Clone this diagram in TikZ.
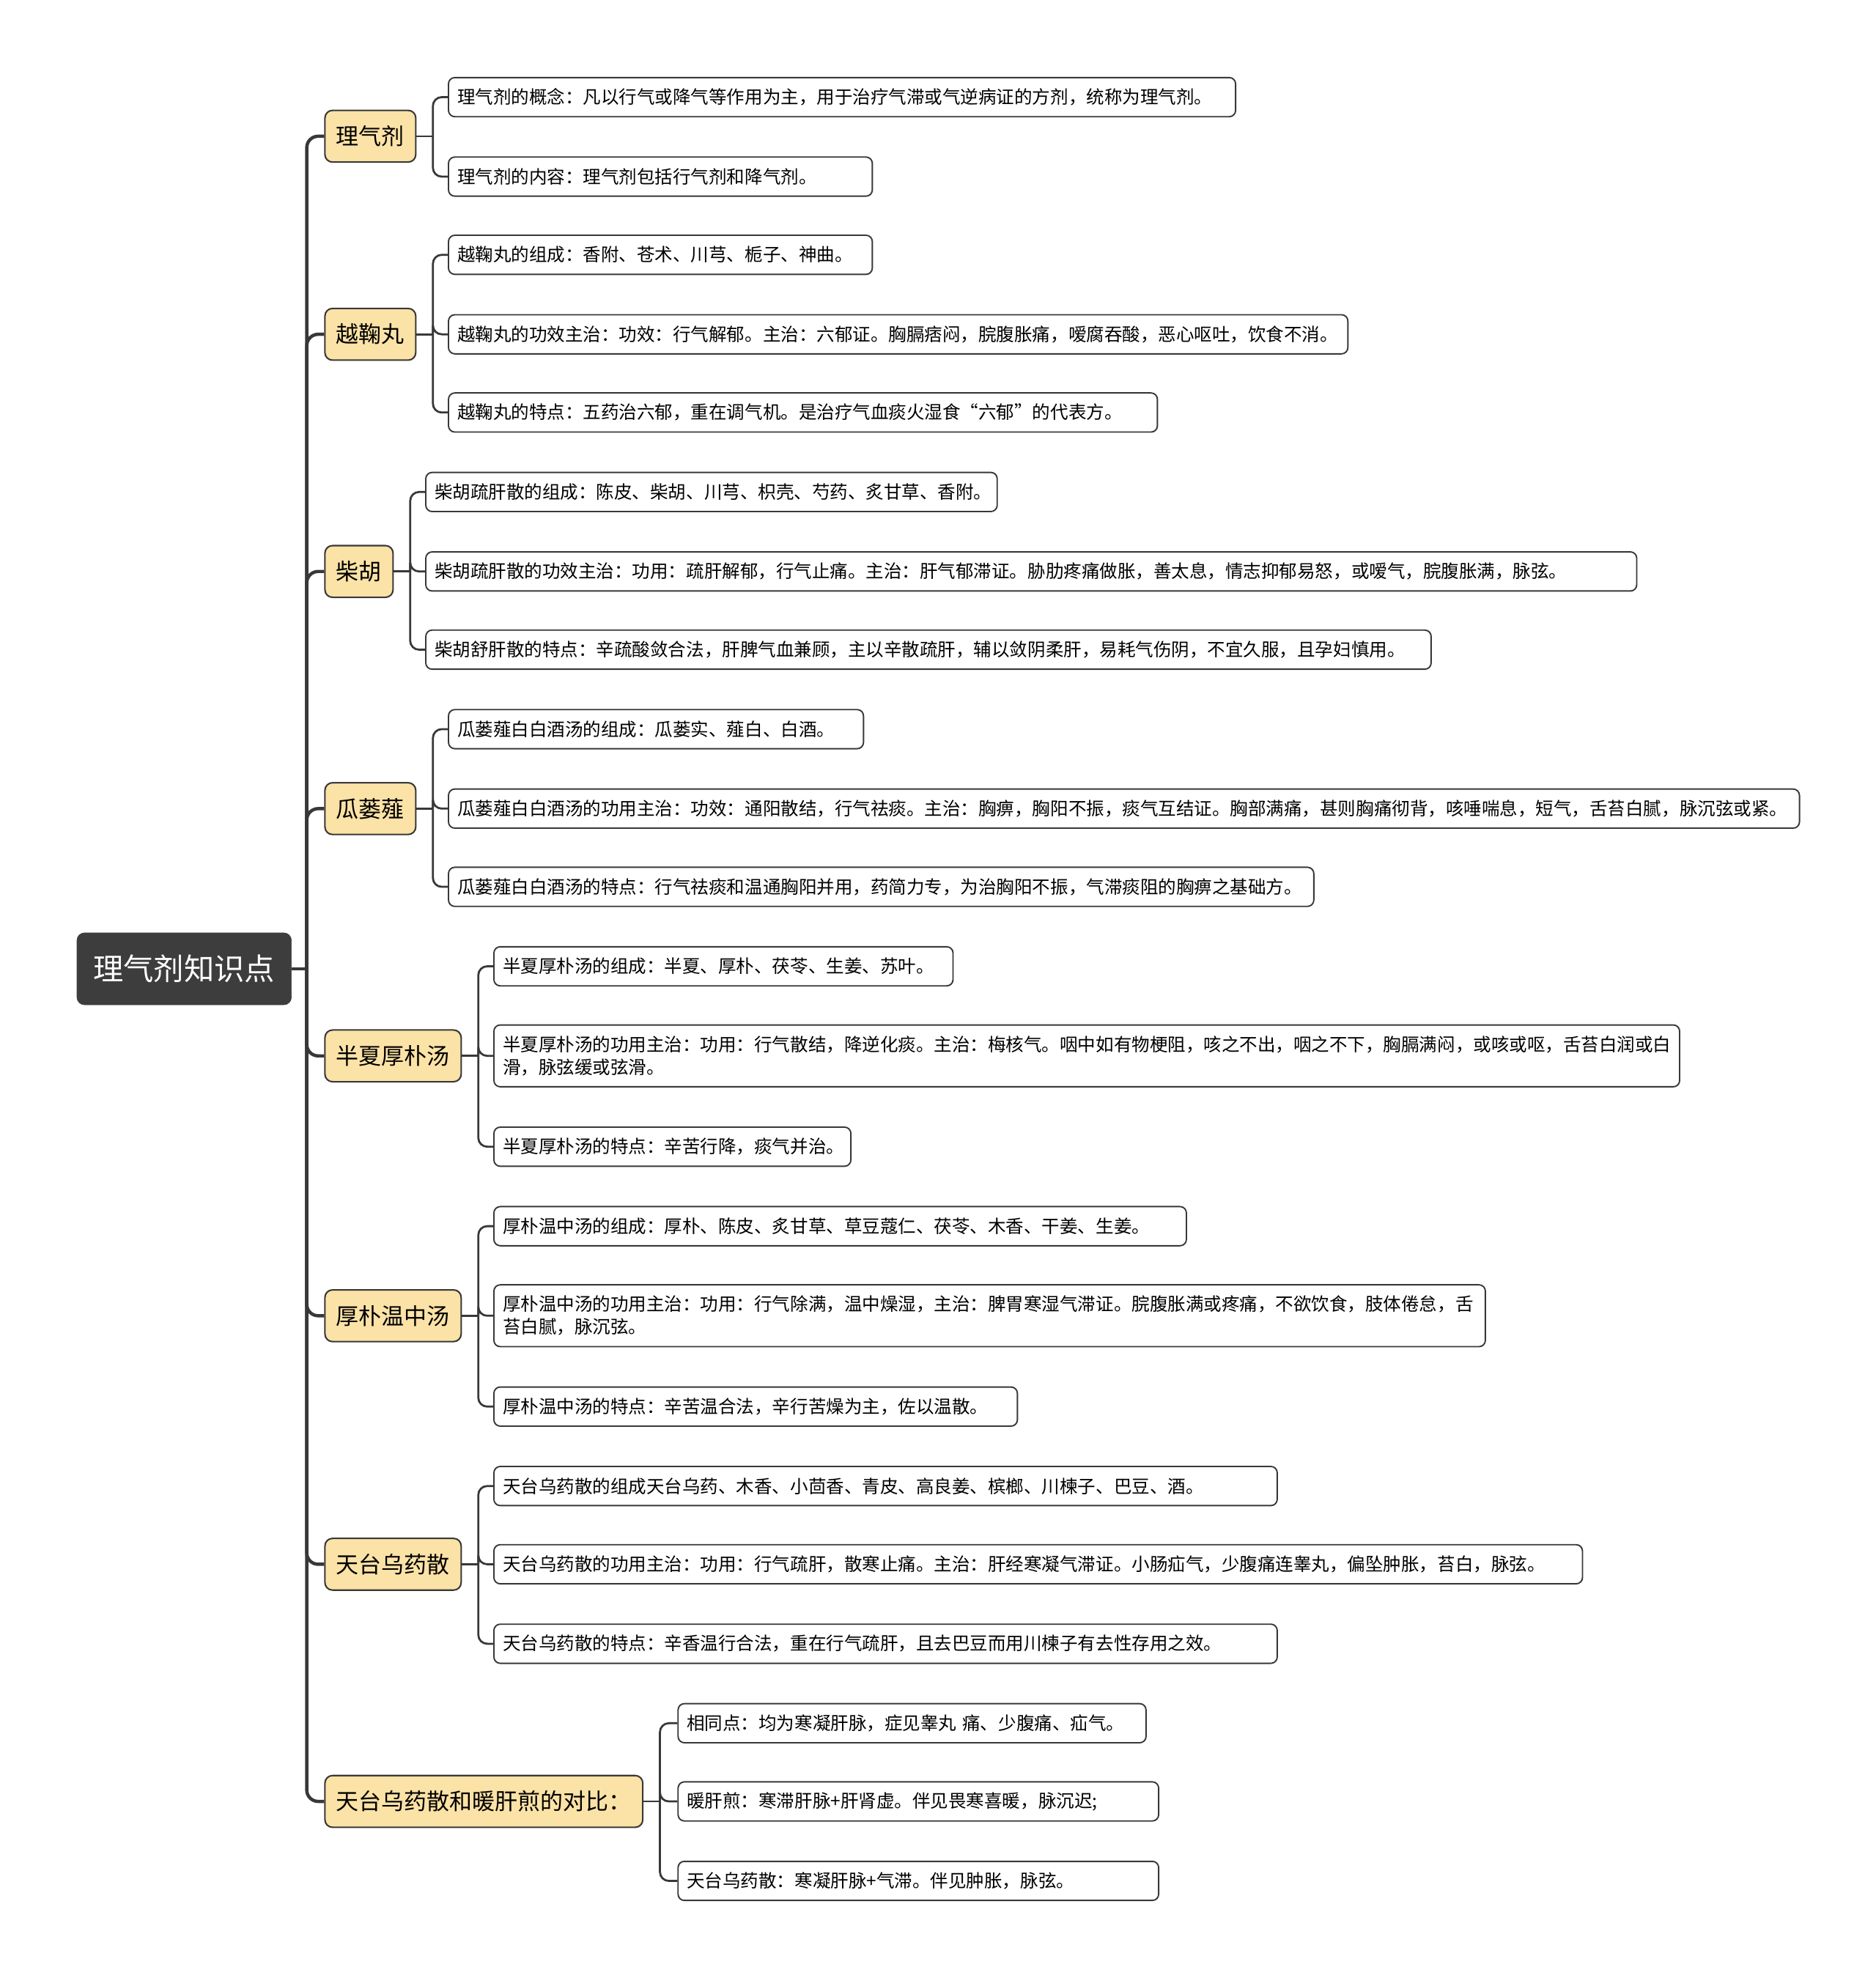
\documentclass[tikz,border=0pt]{standalone}
\usepackage{fontspec}
\setmainfont{Noto Sans CJK SC}
\definecolor{rootgray}{HTML}{3D3D3D}
\definecolor{linegray}{HTML}{383838}
\definecolor{topicfill}{HTML}{FBE2A6}
\newcommand\rootsize{\fontsize{24}{28}\selectfont}
\newcommand\topicsize{\fontsize{18}{22}\selectfont}
\newcommand\leafsize{\fontsize{14.25}{18}\selectfont}
\begin{document}
\begin{tikzpicture}[x=1pt, y=-1pt,
	root/.style={rectangle, rounded corners=6pt, fill=rootgray, draw=rootgray, text=white, font=\rootsize, inner xsep=13pt, minimum height=57pt},
	topic/.style={rectangle, rounded corners=6pt, fill=topicfill, draw=linegray, line width=1.2pt, font=\topicsize, inner xsep=9pt, minimum height=41pt, anchor=west},
	leaf/.style={rectangle, rounded corners=5pt, fill=white, draw=linegray, line width=1.1pt, font=\leafsize, inner xsep=7pt, inner ysep=0pt, align=left, minimum height=31pt, anchor=west, text width=#1},
	trunk/.style={draw=linegray, line width=2.6pt, rounded corners=9pt},
	twig/.style={draw=linegray, line width=1.6pt, rounded corners=7pt}]

	\useasboundingbox (0,0) rectangle (1487,1568);

	\node[root] (root) at (146,768) {理气剂知识点};

	\node[topic] (t1) at (257,108) {理气剂};
	\node[topic] (t2) at (257,265) {越鞠丸};
	\node[topic] (t3) at (257,453) {柴胡};
	\node[topic] (t4) at (257,641) {瓜蒌薤};
	\node[topic] (t5) at (257,837) {半夏厚朴汤};
	\node[topic] (t6) at (257,1043) {厚朴温中汤};
	\node[topic] (t7) at (257,1240) {天台乌药散};
	\node[topic] (t8) at (257,1428) {天台乌药散和暖肝煎的对比：};

	\node[leaf=610pt] (t1a) at (355,77) {理气剂的概念：凡以行气或降气等作用为主，用于治疗气滞或气逆病证的方剂，统称为理气剂。};
	\node[leaf=322pt] (t1b) at (355,140) {理气剂的内容：理气剂包括行气剂和降气剂。};

	\node[leaf=322pt] (t2a) at (355,202) {越鞠丸的组成：香附、苍术、川芎、栀子、神曲。};
	\node[leaf=699pt] (t2b) at (355,265) {越鞠丸的功效主治：功效：行气解郁。主治：六郁证。胸膈痞闷，脘腹胀痛，嗳腐吞酸，恶心呕吐，饮食不消。};
	\node[leaf=548pt] (t2c) at (355,327) {越鞠丸的特点：五药治六郁，重在调气机。是治疗气血痰火湿食“六郁”的代表方。};

	\node[leaf=439pt] (t3a) at (337,390) {柴胡疏肝散的组成：陈皮、柴胡、川芎、枳壳、芍药、炙甘草、香附。};
	\node[leaf=946pt] (t3b) at (337,453) {柴胡疏肝散的功效主治：功用：疏肝解郁，行气止痛。主治：肝气郁滞证。胁肋疼痛做胀，善太息，情志抑郁易怒，或嗳气，脘腹胀满，脉弦。};
	\node[leaf=783pt] (t3c) at (337,515) {柴胡舒肝散的特点：辛疏酸敛合法，肝脾气血兼顾，主以辛散疏肝，辅以敛阴柔肝，易耗气伤阴，不宜久服，且孕妇慎用。};

	\node[leaf=315pt] (t4a) at (355,578) {瓜蒌薤白白酒汤的组成：瓜蒌实、薤白、白酒。};
	\node[leaf=1057pt] (t4b) at (355,641) {瓜蒌薤白白酒汤的功用主治：功效：通阳散结，行气祛痰。主治：胸痹，胸阳不振，痰气互结证。胸部满痛，甚则胸痛彻背，咳唾喘息，短气，舌苔白腻，脉沉弦或紧。};
	\node[leaf=672pt] (t4c) at (355,703) {瓜蒌薤白白酒汤的特点：行气祛痰和温通胸阳并用，药简力专，为治胸阳不振，气滞痰阻的胸痹之基础方。};

	\node[leaf=350pt] (t5a) at (391,766) {半夏厚朴汤的组成：半夏、厚朴、茯苓、生姜、苏叶。};
	\node[leaf=926pt, minimum height=49pt] (t5b) at (391,837) {半夏厚朴汤的功用主治：功用：行气散结，降逆化痰。主治：梅核气。咽中如有物梗阻，咳之不出，咽之不下，胸膈满闷，或咳或呕，舌苔白润或白\\滑，脉弦缓或弦滑。};
	\node[leaf=269pt] (t5c) at (391,909) {半夏厚朴汤的特点：辛苦行降，痰气并治。};

	\node[leaf=535pt] (t6a) at (391,972) {厚朴温中汤的组成：厚朴、陈皮、炙甘草、草豆蔻仁、茯苓、木香、干姜、生姜。};
	\node[leaf=772pt, minimum height=49pt] (t6b) at (391,1043) {厚朴温中汤的功用主治：功用：行气除满，温中燥湿，主治：脾胃寒湿气滞证。脘腹胀满或疼痛，不欲饮食，肢体倦怠，舌\\苔白腻，脉沉弦。};
	\node[leaf=401pt] (t6c) at (391,1115) {厚朴温中汤的特点：辛苦温合法，辛行苦燥为主，佐以温散。};

	\node[leaf=607pt] (t7a) at (391,1178) {天台乌药散的组成天台乌药、木香、小茴香、青皮、高良姜、槟榔、川楝子、巴豆、酒。};
	\node[leaf=849pt] (t7b) at (391,1240) {天台乌药散的功用主治：功用：行气疏肝，散寒止痛。主治：肝经寒凝气滞证。小肠疝气，少腹痛连睾丸，偏坠肿胀，苔白，脉弦。};
	\node[leaf=607pt] (t7c) at (391,1303) {天台乌药散的特点：辛香温行合法，重在行气疏肝，且去巴豆而用川楝子有去性存用之效。};

	\node[leaf=357pt] (t8a) at (537,1366) {相同点：均为寒凝肝脉，症见睾丸 痛、少腹痛、疝气。};
	\node[leaf=367pt] (t8b) at (537,1428) {暖肝煎：寒滞肝脉+肝肾虚。伴见畏寒喜暖，脉沉迟;};
	\node[leaf=367pt] (t8c) at (537,1491) {天台乌药散：寒凝肝脉+气滞。伴见肿胀，脉弦。};

	% trunk from the root to every topic
	\draw[trunk] (root.east) -- ++(12,0) coordinate (tk);
	\foreach \t in {t1,t2,t3,t4,t5,t6,t7,t8}
		\draw[trunk] (tk) |- (\t.west);

	% topic buses
	\foreach \t/\kids in {t1/{t1a,t1b}, t2/{t2a,t2b,t2c}, t3/{t3a,t3b,t3c}, t4/{t4a,t4b,t4c}, t5/{t5a,t5b,t5c}, t6/{t6a,t6b,t6c}, t7/{t7a,t7b,t7c}, t8/{t8a,t8b,t8c}} {
		\draw[twig] (\t.east) -- ++(13,0) coordinate (\t bus);
		\foreach \k in \kids
			\draw[twig] (\t bus) |- (\k.west);
	}
\end{tikzpicture}
\end{document}
